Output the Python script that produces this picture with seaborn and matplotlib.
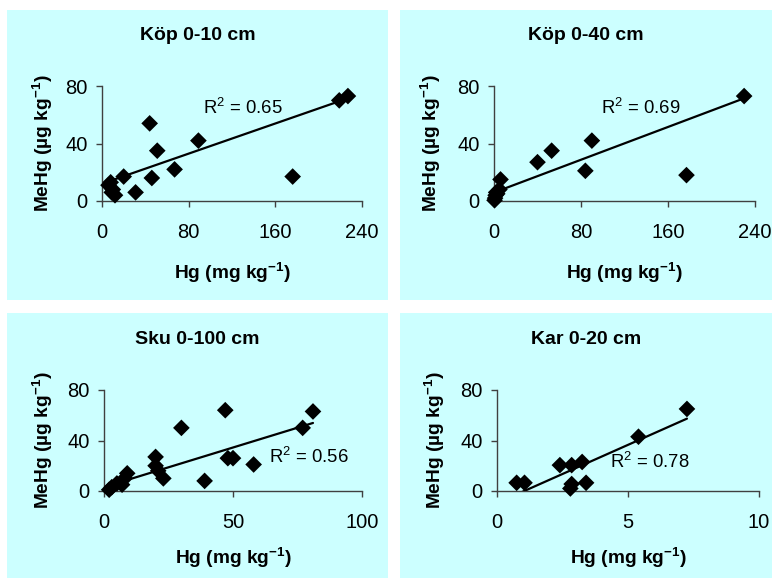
import numpy as np
import pandas as pd
import matplotlib
matplotlib.use("Agg")
import matplotlib.pyplot as plt
from matplotlib.patches import Rectangle
import seaborn as sns

# ---------------- data ----------------
kop10_hg = [6, 8, 10, 12, 9, 20, 31, 44, 46, 51, 67, 89, 176, 219, 227]
kop10_mehg = [11, 13, 8, 4, 6, 17, 6, 54, 16, 35, 22, 42, 17, 70, 73]

kop40_hg = [0.5, 1, 1.5, 2, 3, 5, 6, 40, 53, 84, 90, 177, 230]
kop40_mehg = [0.5, 2, 4, 6, 5, 8, 15, 27, 35, 21, 42, 18, 73]

sku_hg = [2, 3, 5, 7, 8, 9, 20, 20, 21, 23, 30, 39, 47, 48, 50, 58, 77, 81]
sku_mehg = [1, 3, 6, 5, 10, 14, 27, 20, 16, 10, 50, 8, 64, 26, 26, 21, 50, 63]

kar_hg = [0.75, 1.05, 2.4, 2.85, 3.25, 2.85, 2.8, 3.4, 5.4, 7.25]
kar_mehg = [6.5, 6.5, 20.5, 20.5, 23, 5.5, 2, 6.5, 43, 65]

titles = ["Köp 0-10 cm", "Köp 0-40 cm", "Sku 0-100 cm", "Kar 0-20 cm"]
r2_labels = ["0.65", "0.69", "0.56", "0.78"]
# linear trendlines: MeHg = intercept + slope * Hg
trend_slope = [0.262, 0.285, 0.627, 9.23]
trend_intercept = [12.0, 5.9, 3.1, -9.6]
x_ticks = [[0, 80, 160, 240], [0, 80, 160, 240], [0, 50, 100], [0, 5, 10]]
y_ticks = [0, 40, 80]
r2_pos = [(93, 65), (98, 65), (64, 27), (4.3, 23)]

# ---------------- style ----------------
sns.set_theme(style="ticks")
plt.rcParams["font.family"] = ["Liberation Sans", "DejaVu Sans"]
plt.rcParams["text.color"] = "black"
plt.rcParams["axes.labelcolor"] = "black"
plt.rcParams["mathtext.fontset"] = "custom"
plt.rcParams["mathtext.rm"] = "Liberation Sans"
plt.rcParams["mathtext.it"] = "Liberation Sans:italic"
plt.rcParams["mathtext.bf"] = "Liberation Sans:bold"

W, H = 776, 585
fig = plt.figure(figsize=(W / 100, H / 100), dpi=100)
fig.patch.set_facecolor("white")

def fx(px):
    return px / W

def fy(py):
    return 1 - py / H

panels = [(7, 10, 388, 300), (400, 10, 772, 300), (7, 313, 388, 578), (400, 313, 772, 578)]
axes_px = [(102, 86, 362, 201), (494, 86, 755, 201), (104, 390, 362, 491), (497, 390, 759, 491)]
xlabel_y = [273, 273, 558, 558]
ylabel_x = [43, 431, 43, 435]

data = [(kop10_hg, kop10_mehg), (kop40_hg, kop40_mehg), (sku_hg, sku_mehg), (kar_hg, kar_mehg)]

for i in range(4):
    x0, y0, x1, y1 = panels[i]
    fig.patches.append(Rectangle((fx(x0), fy(y1)), fx(x1) - fx(x0), fy(y0) - fy(y1),
                                 transform=fig.transFigure, facecolor="#CCFFFF",
                                 edgecolor="none", zorder=-10))
    fig.text(fx((x0 + x1) / 2), fy(y0 + 26), titles[i], ha="center", va="center",
             fontsize=14, fontweight="bold", color="black")

    ax0, ay0, ax1, ay1 = axes_px[i]
    ax = fig.add_axes([fx(ax0), fy(ay1), fx(ax1) - fx(ax0), fy(ay0) - fy(ay1)])
    ax.set_zorder(5)
    ax.patch.set_alpha(0)
    hg, mehg = data[i]
    df = pd.DataFrame({"Hg": hg, "MeHg": mehg})
    sns.regplot(data=df, x="Hg", y="MeHg", ax=ax, fit_reg=False, marker="D",
                scatter_kws=dict(s=72, color="black", edgecolors="none",
                                 clip_on=False, zorder=4, alpha=1))
    # trendline over the data range
    tx = np.array([min(hg), max(hg)])
    tdf = pd.DataFrame({"Hg": tx, "MeHg": trend_intercept[i] + trend_slope[i] * tx})
    sns.lineplot(data=tdf, x="Hg", y="MeHg", ax=ax, color="black", lw=1.6, zorder=5)
    xt = x_ticks[i]
    ax.set_xlim(xt[0], xt[-1])
    ax.set_ylim(0, 80)
    ax.set_xticks(xt)
    ax.set_yticks(y_ticks)
    ax.set_xticklabels([str(v) for v in xt])
    ax.set_yticklabels([str(v) for v in y_ticks])
    for s in ["top", "right"]:
        ax.spines[s].set_visible(False)
    for s in ["left", "bottom"]:
        ax.spines[s].set_color("#404040")
        ax.spines[s].set_linewidth(1.0)
    ax.tick_params(axis="both", direction="out", length=4.5, width=1.0,
                   color="#404040", labelsize=14.5, labelcolor="black")
    ax.tick_params(axis="x", pad=11)
    ax.tick_params(axis="y", pad=6)
    ax.set_xlabel("")
    ax.set_ylabel("")
    fig.text(fx((ax0 + ax1) / 2), fy(xlabel_y[i]), r"Hg (mg kg$^{\mathbf{-1}}$)",
             ha="center", va="center", fontsize=13.8, fontweight="bold", color="black")
    fig.text(fx(ylabel_x[i]), fy((ay0 + ay1) / 2), r"MeHg (µg kg$^{\mathbf{-1}}$)",
             ha="center", va="center", rotation=90, fontsize=13.8, fontweight="bold",
             color="black")
    ax.text(r2_pos[i][0], r2_pos[i][1], r"R$^2$ = " + r2_labels[i], ha="left",
            va="center", fontsize=13.3, zorder=6, color="black")

fig.savefig("out.png", dpi=100, facecolor="white")
